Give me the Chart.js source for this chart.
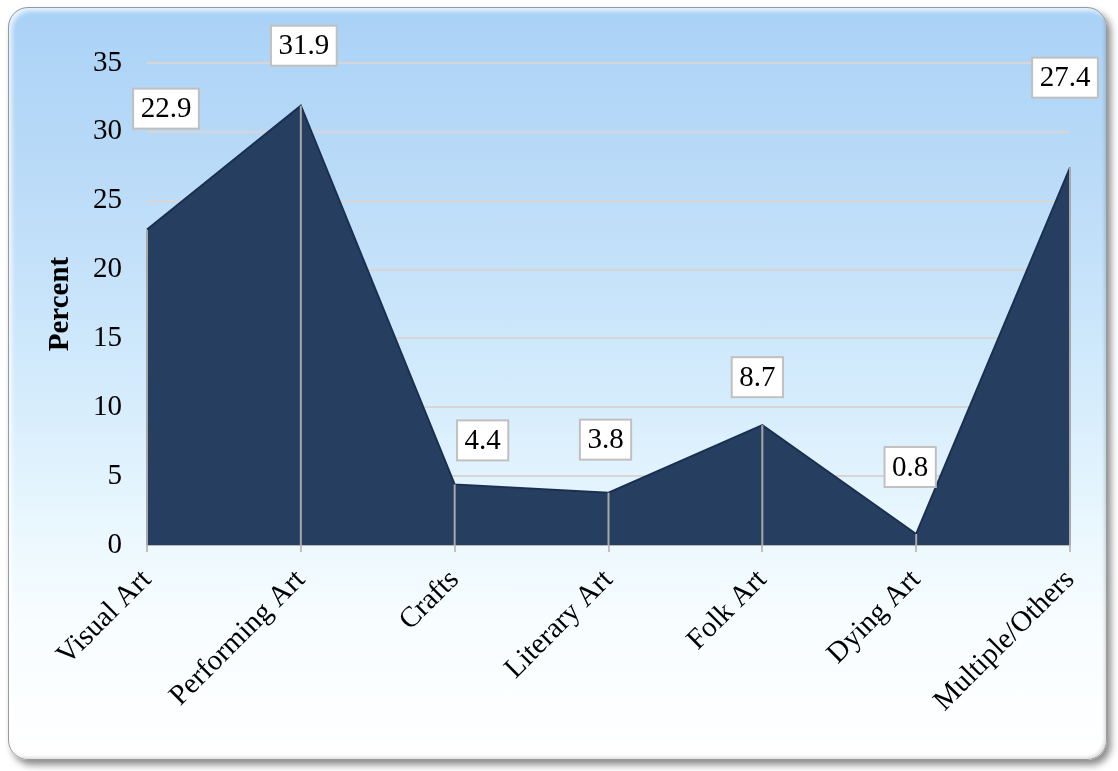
<!DOCTYPE html>
<html>
<head>
<meta charset="utf-8">
<title>Art forms</title>
<script src="https://cdn.jsdelivr.net/npm/chart.js@4.4.1/dist/chart.umd.min.js"></script>
<style>
  html, body { margin: 0; padding: 0; background: #ffffff; }
  #wrap { position: relative; width: 1118px; height: 771px; overflow: hidden; }
  #frame {
    position: absolute; left: 8px; top: 7px; width: 1097px; height: 751px;
    border-radius: 20px;
    border: 1px solid #9a9a9a;
    background: linear-gradient(180deg, #aad2f6 0%, #bcdcf8 25%, #d3ebfc 50%, #ebf8fe 70%, #f8fdff 82%, #ffffff 100%);
    box-shadow: 4px 5px 7px rgba(0,0,0,0.45), inset 3px 3px 4px rgba(255,255,255,0.75), inset -2px -2px 3px rgba(0,0,0,0.12);
  }
  #c { position: absolute; left: 0; top: 0; }
</style>
</head>
<body>
<div id="wrap">
  <div id="frame"></div>
  <canvas id="c" width="1118" height="771"></canvas>
</div>
<script>
// ---- data ----
const categories = ["Visual Art", "Performing Art", "Crafts", "Literary Art", "Folk Art", "Dying Art", "Multiple/Others"];
const percents   = [22.9, 31.9, 4.4, 3.8, 8.7, 0.8, 27.4];
const yTicks     = [0, 5, 10, 15, 20, 25, 30, 35];

const FONT = "'Liberation Serif', 'Times New Roman', serif";

// vertical drop lines from each point down to the axis
const dropLines = {
  id: "dropLines",
  afterDatasetsDraw(chart) {
    const meta = chart.getDatasetMeta(0);
    const bottom = chart.scales.y.getPixelForValue(yTicks[0]);
    const ctx = chart.ctx;
    ctx.save();
    ctx.strokeStyle = "#a8a8a8";
    ctx.lineWidth = 2;
    meta.data.forEach(pt => {
      ctx.beginPath();
      ctx.moveTo(pt.x, pt.y);
      ctx.lineTo(pt.x, bottom);
      ctx.stroke();
    });
    ctx.restore();
  }
};

// boxed value labels, offset from their points like in the original
const boxLabels = {
  id: "boxLabels",
  afterDraw(chart, args, opts) {
    const meta = chart.getDatasetMeta(0);
    const ctx = chart.ctx;
    ctx.save();
    ctx.font = opts.font;
    ctx.textAlign = "center";
    ctx.textBaseline = "middle";
    meta.data.forEach((pt, i) => {
      const txt = percents[i].toFixed(1);
      const [dx, dy] = opts.offsets[i];
      const cx = pt.x + dx, cy = pt.y + dy;
      const w = ctx.measureText(txt).width + 15;
      const h = 40;
      ctx.fillStyle = "#ffffff";
      ctx.fillRect(cx - w / 2, cy - h / 2, w, h);
      ctx.strokeStyle = "#c0c0c0";
      ctx.lineWidth = 2;
      ctx.strokeRect(cx - w / 2, cy - h / 2, w, h);
      ctx.fillStyle = "#000000";
      ctx.fillText(txt, cx, cy + 1);
    });
    ctx.restore();
  }
};

new Chart(document.getElementById("c"), {
  type: "line",
  data: {
    labels: categories,
    datasets: [{
      data: percents,
      fill: "origin",
      backgroundColor: "#263f60",
      borderColor: "#1a3050",
      borderWidth: 2,
      tension: 0,
      pointRadius: 0,
      pointHoverRadius: 0
    }]
  },
  options: {
    responsive: false,
    animation: false,
    events: [],
    layout: { padding: { top: 63, right: 48, bottom: 0, left: 0 } },
    plugins: {
      legend: { display: false },
      tooltip: { enabled: false },
      boxLabels: {
        font: "29px " + FONT,
        offsets: [[19, -121], [3, -60], [28, -44], [-3, -53], [-5, -48], [-6, -67], [-5, -90]]
      }
    },
    scales: {
      x: {
        offset: false,
        afterFit: s => { s.height = 226; },
        grid: { drawOnChartArea: false, drawTicks: true, tickLength: 7, color: "#c0c0c0", lineWidth: 2 },
        border: { color: "#b8b8b8", width: 2 },
        ticks: {
          color: "#000000",
          font: { family: FONT, size: 29 },
          minRotation: 45,
          maxRotation: 45,
          padding: 11,
          autoSkip: false
        }
      },
      y: {
        min: yTicks[0],
        max: yTicks[yTicks.length - 1],
        afterFit: s => { s.width = 147; },
        afterBuildTicks: s => { s.ticks = yTicks.map(v => ({ value: v })); },
        grid: { color: "#d6d6d6", lineWidth: 2, drawTicks: false },
        border: { display: false },
        ticks: {
          color: "#000000",
          font: { family: FONT, size: 29 },
          padding: 25
        },
        title: {
          display: true,
          text: "Percent",
          color: "#000000",
          font: { family: FONT, size: 29, weight: "bold" },
          padding: { top: 43, bottom: 0 }
        }
      }
    }
  },
  plugins: [dropLines, boxLabels]
});
</script>
</body>
</html>
